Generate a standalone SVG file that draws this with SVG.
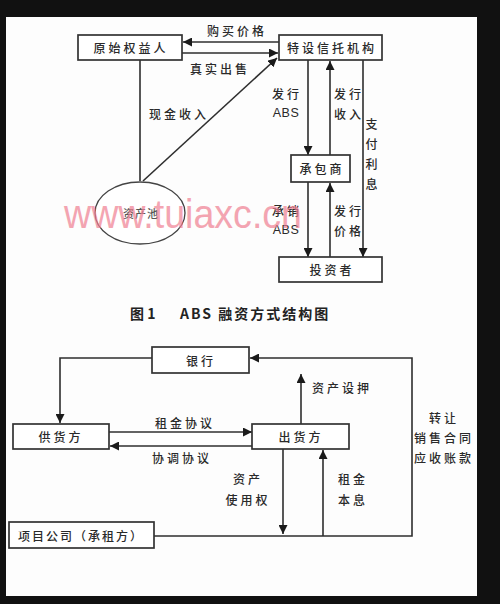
<svg xmlns="http://www.w3.org/2000/svg" width="500" height="604" viewBox="0 0 500 604">
<defs>
<style>
.bg{fill:#111}
.paper{fill:#fdfdfd}
.box{fill:#fff;stroke:#333;stroke-width:1.7}
.ln{fill:none;stroke:#2e2e2e;stroke-width:1.6}
.t{font-family:"Noto Sans CJK SC","Liberation Sans",sans-serif;font-size:12px;fill:#2a2a2a;text-anchor:middle;dominant-baseline:central;letter-spacing:3px;font-weight:500}
.abs{font-family:"Liberation Sans",sans-serif;font-size:12.5px;letter-spacing:0.5px}
.cap{font-family:"Noto Sans CJK SC","Liberation Sans",sans-serif;font-size:14px;font-weight:700;fill:#222;dominant-baseline:central}
.wm{font-family:"Liberation Sans",sans-serif;font-size:40px;fill:#f07f92;opacity:0.7;dominant-baseline:central}
</style>
<marker id="ah" viewBox="0 0 10 10" refX="10" refY="5" markerWidth="9" markerHeight="9" markerUnits="userSpaceOnUse" orient="auto">
<path d="M0,0 L10,5 L0,10 z" fill="#1a1a1a"/>
</marker>
</defs>
<rect class="bg" x="0" y="0" width="500" height="604"/>
<rect class="paper" x="6" y="17" width="471" height="579"/>

<g id="connectors">
<line class="ln" x1="279" y1="42" x2="183" y2="42" marker-end="url(#ah)"/>
<path class="ln" d="M140,181 V53 H278" marker-end="url(#ah)"/>
<line class="ln" x1="143" y1="181" x2="277" y2="58" marker-end="url(#ah)"/>
<line class="ln" x1="308" y1="60" x2="308" y2="155" marker-end="url(#ah)"/>
<line class="ln" x1="330" y1="155" x2="330" y2="61" marker-end="url(#ah)"/>
<line class="ln" x1="363" y1="60" x2="363" y2="257" marker-end="url(#ah)"/>
<line class="ln" x1="308" y1="182" x2="308" y2="257" marker-end="url(#ah)"/>
<line class="ln" x1="330" y1="257" x2="330" y2="183" marker-end="url(#ah)"/>

<path class="ln" d="M152,358 H60 V423" marker-end="url(#ah)"/>
<line class="ln" x1="109" y1="432" x2="252" y2="432" marker-end="url(#ah)"/>
<line class="ln" x1="252" y1="446" x2="110" y2="446" marker-end="url(#ah)"/>
<line class="ln" x1="301" y1="424" x2="301" y2="374" marker-end="url(#ah)"/>
<path class="ln" d="M154,536 H412 V358 H250" marker-end="url(#ah)"/>
<line class="ln" x1="283" y1="449" x2="283" y2="534" marker-end="url(#ah)"/>
<line class="ln" x1="323" y1="536" x2="323" y2="450" marker-end="url(#ah)"/>
</g>

<g id="yuanshi">
<rect class="box" x="78" y="35" width="104" height="25"/>
<text class="t" x="131" y="47">原始权益人</text>
</g>
<g id="teshe">
<rect class="box" x="279" y="35" width="103" height="25"/>
<text class="t" x="332" y="47">特设信托机构</text>
</g>
<g id="chengbao">
<rect class="box" x="291" y="155" width="59" height="27"/>
<text class="t" x="322" y="168">承包商</text>
</g>
<g id="touzi">
<rect class="box" x="279" y="257" width="103" height="25"/>
<text class="t" x="332" y="269">投资者</text>
</g>
<g id="zichanchi">
<ellipse cx="140" cy="213" rx="45" ry="31" fill="#fff" stroke="#444" stroke-width="1.3"/>
<text class="t" x="141" y="213" style="font-size:11px;letter-spacing:1px;fill:#555">资产池</text>
</g>

<g id="labels-top">
<text class="t" x="237" y="30">购买价格</text>
<text class="t" x="220" y="68">真实出售</text>
<text class="t" x="179" y="113">现金收入</text>
<text class="t" x="287" y="93">发行</text>
<text class="t abs" x="286" y="113">ABS</text>
<text class="t" x="349" y="93">发行</text>
<text class="t" x="349" y="113">收入</text>
<text class="t" x="373" y="123">支</text>
<text class="t" x="373" y="143">付</text>
<text class="t" x="373" y="163">利</text>
<text class="t" x="373" y="183">息</text>
<text class="t" x="287" y="210">承销</text>
<text class="t abs" x="286" y="230">ABS</text>
<text class="t" x="349" y="210">发行</text>
<text class="t" x="349" y="230">价格</text>
</g>

<text class="wm" x="64" y="214" textLength="238" lengthAdjust="spacingAndGlyphs">www.tuiaxc.cn</text>

<g id="caption">
<text class="cap" x="130" y="313">图 1</text>
<text class="cap" x="180" y="313" style="letter-spacing:2px">ABS 融资方式结构图</text>
</g>

<g id="yinhang">
<rect class="box" x="152" y="347" width="97" height="26"/>
<text class="t" x="201" y="360">银行</text>
</g>
<g id="gonghuo">
<rect class="box" x="13" y="424" width="96" height="25"/>
<text class="t" x="61" y="436">供货方</text>
</g>
<g id="chuhuo">
<rect class="box" x="252" y="424" width="97" height="25"/>
<text class="t" x="301" y="436">出货方</text>
</g>
<g id="xiangmu">
<rect class="box" x="9" y="522" width="145" height="26"/>
<text class="t" x="81" y="535" style="letter-spacing:2px">项目公司（承租方）</text>
</g>

<g id="labels-bottom">
<text class="t" x="185" y="422">租金协议</text>
<text class="t" x="182" y="457">协调协议</text>
<text class="t" x="342" y="387">资产设押</text>
<text class="t" x="444" y="417">转让</text>
<text class="t" x="444" y="437">销售合同</text>
<text class="t" x="444" y="457">应收账款</text>
<text class="t" x="248" y="478">资产</text>
<text class="t" x="248" y="499">使用权</text>
<text class="t" x="353" y="478">租金</text>
<text class="t" x="353" y="499">本息</text>
</g>
</svg>
